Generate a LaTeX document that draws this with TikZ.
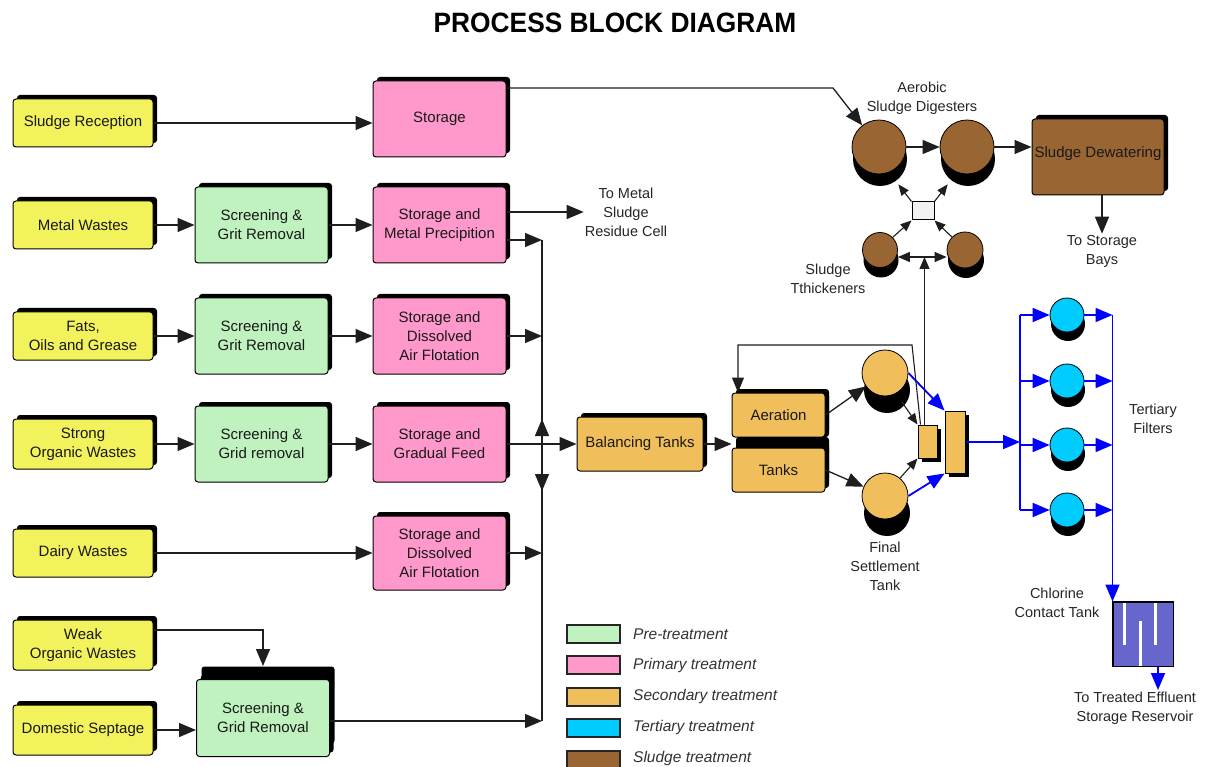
\documentclass[tikz,border=0pt]{standalone}
\usepackage{fontspec}
\usepackage{graphicx}
\setmainfont{Liberation Sans}
\usetikzlibrary{arrows.meta,shadows}

\definecolor{srcY}{HTML}{F2F25C}
\definecolor{preG}{HTML}{BFF2BF}
\definecolor{priP}{HTML}{FF99CC}
\definecolor{secO}{HTML}{F0BF5C}
\definecolor{terC}{HTML}{00CCFF}
\definecolor{sluB}{HTML}{996633}
\definecolor{chlV}{HTML}{6666CC}
\definecolor{lineK}{HTML}{1E1E1E}
\definecolor{legT}{HTML}{333333}

\tikzset{
  blk/.style={draw=black, line width=1pt, rounded corners=3pt, align=center,
    inner sep=1pt, text=black!90, font=\fontsize{15}{19}\selectfont,
    drop shadow={shadow xshift=4pt, shadow yshift=4pt, fill=black, opacity=1}},
  srcbox/.style={blk, fill=srcY, minimum width=140pt, minimum height=48pt},
  prebox/.style={blk, fill=preG, minimum width=133pt, minimum height=76pt},
  pribox/.style={blk, fill=priP, minimum width=133pt, minimum height=76pt},
  secbox/.style={blk, fill=secO},
  tank/.style={circle, draw=black, line width=0.8pt, inner sep=0pt},
  lbl/.style={align=center, inner sep=1pt, text=black!85, font=\fontsize{14.5}{19}\selectfont},
  conn/.style={draw=lineK, line width=1.3pt},
  flow/.style={conn, -{Triangle[length=17pt,width=14pt]}},
  sflow/.style={conn, line width=1.1pt, -{Triangle[length=11pt,width=9pt]}},
  wet/.style={draw=blue, line width=1.8pt, -{Triangle[length=17pt,width=14pt]}},
  wline/.style={draw=blue, line width=1.8pt},
  legsw/.style={draw=black!85, line width=1.2pt, minimum width=53pt, minimum height=18pt, inner sep=0pt},
  legtx/.style={anchor=west, inner sep=0pt, text=legT, font=\itshape\fontsize{15.5}{18}\selectfont}
}

\begin{document}
\begin{tikzpicture}[x=1pt,y=-1pt]
\fill[white] (0,0) rectangle (1210,767);
\useasboundingbox (0,0) rectangle (1210,767);

% title
\node[font=\bfseries\fontsize{28}{30}\selectfont] (ttl) at (615,23) {\scalebox{0.94}[1]{PROCESS BLOCK DIAGRAM}};

% ---- incoming wastes ----
\node[srcbox] (sr) at (83,123) {Sludge Reception};
\node[srcbox] (mw) at (83,225) {Metal Wastes};
\node[srcbox] (fo) at (83,336) {Fats,\\Oils and Grease};
\node[srcbox, minimum height=50pt] (so) at (83,444) {Strong\\Organic Wastes};
\node[srcbox] (dw0) at (83,553) {Dairy Wastes};
\node[srcbox, minimum height=50pt] (wo) at (83,645) {Weak\\Organic Wastes};
\node[srcbox, minimum height=50pt] (ds) at (83,730) {Domestic Septage};

% ---- pre-treatment ----
\node[prebox] (g1) at (261.5,225) {Screening \&\\Grit Removal};
\node[prebox] (g2) at (261.5,336) {Screening \&\\Grit Removal};
\node[prebox] (g3) at (261.5,444) {Screening \&\\Grid removal};
\node[prebox, minimum height=77pt,
  drop shadow={shadow xshift=5pt, shadow yshift=13pt, fill=black, opacity=1}]
  (g4) at (263,718) {Screening \&\\Grid Removal};

% ---- primary treatment ----
\node[pribox] (st) at (439.5,119) {Storage};
\node[pribox] (mp) at (439.5,225) {Storage and\\Metal Precipition};
\node[pribox] (dp1) at (439.5,336) {Storage and\\Dissolved\\Air Flotation};
\node[pribox] (gf) at (439.5,444) {Storage and\\Gradual Feed};
\node[pribox, minimum height=74pt] (dp2) at (439.5,553) {Storage and\\Dissolved\\Air Flotation};

\node[lbl] (tm) at (626,212) {To Metal\\Sludge\\Residue Cell};

% ---- connectors on the left ----
\draw[flow] (sr) -- (sr -| st.west);
\draw[flow] (mw) -- (g1);
\draw[flow] (g1) -- (mp);
\draw[flow] (fo) -- (g2);
\draw[flow] (g2) -- (dp1);
\draw[flow] (so) -- (g3);
\draw[flow] (g3) -- (gf);
\draw[flow] (dw0) -- (dp2);
\draw[flow] (wo.east |- 0,630) -| ([yshift=13pt]g4.north);
\draw[flow] (ds.east) -- (ds.east -| g4.west);
\draw[flow] (mp.east |- tm) -- (tm.west);

% collecting main
\coordinate (b1) at (542,240);
\coordinate (b2) at (542,336);
\coordinate (b3) at (542,444);
\coordinate (b4) at (542,553);
\coordinate (b5) at (542,721);
\coordinate (bu) at (542,419);
\coordinate (bd) at (542,491);
\draw[conn] (b1) -- (b5);
\draw[flow] (mp.east |- b1) -- (b1);
\draw[flow] (dp1.east |- b2) -- (b2);
\draw[flow] (dp2.east |- b4) -- (b4);
\draw[flow] (g4.east |- b5) -- (b5);
\draw[flow] (b3) -- (bu);
\draw[flow] (b3) -- (bd);

% ---- secondary treatment ----
\node[secbox, minimum width=126pt, minimum height=54pt] (bt) at (640,444) {Balancing Tanks};
\draw[flow] (gf) -- (bt);

\node[secbox, minimum width=93pt, minimum height=44pt,
  drop shadow={shadow xshift=4pt, shadow yshift=0pt, fill=black, opacity=1}]
  (aer) at (778.5,415) {Aeration};
\node[secbox, minimum width=93pt, minimum height=44pt,
  drop shadow={shadow xshift=4pt, shadow yshift=11pt, fill=black, opacity=1}]
  (tk) at (778.5,470) {Tanks};
\draw[flow] (bt) -- (bt -| aer.west);

\node[tank, fill=secO, minimum size=46pt,
  drop shadow={shadow xshift=2pt, shadow yshift=-17pt, fill=black, opacity=1}]
  (cl1) at (885,373) {};
\node[tank, fill=secO, minimum size=46pt,
  drop shadow={shadow xshift=2pt, shadow yshift=-17pt, fill=black, opacity=1}]
  (cl2) at (885,496) {};
\node[lbl] (fst) at (885,566) {Final\\Settlement\\Tank};

\node[draw=black, line width=1pt, fill=secO, minimum width=19pt, minimum height=33pt, inner sep=0pt,
  drop shadow={shadow xshift=4pt, shadow yshift=-4pt, fill=black, opacity=1}]
  (sb) at (927.5,441.5) {};
\node[draw=black, line width=1pt, fill=secO, minimum width=20pt, minimum height=62pt, inner sep=0pt,
  drop shadow={shadow xshift=4pt, shadow yshift=-4pt, fill=black, opacity=1}]
  (bb) at (955,442) {};

\draw[flow] (aer.east) -- (cl1);
\draw[flow] (tk.east) -- (cl2);
\draw[sflow] ([yshift=-12pt]cl1.-45) -- (sb.north west);
\draw[sflow] (cl2.50) -- (sb.south west);
\draw[wet] (cl1.east) -- (bb.north west);
\draw[wet] (cl2.east) -- (bb.south west);

% return sludge line
\coordinate (fb1) at (912,345);
\coordinate (fb2) at (738,345);
\draw[conn, line width=1.1pt, -{Triangle[length=15pt,width=12pt]}]
  ([xshift=3pt]sb.north west) -- (fb1) -- (fb2) -- (fb2 |- aer.north);

% ---- sludge treatment ----
\node[tank, fill=sluB, minimum size=54pt,
  drop shadow={shadow xshift=1pt, shadow yshift=-12pt, fill=black, opacity=1}]
  (dg1) at (879,147) {};
\node[tank, fill=sluB, minimum size=54pt,
  drop shadow={shadow xshift=1pt, shadow yshift=-12pt, fill=black, opacity=1}]
  (dg2) at (967,147) {};
\node[lbl] (adg) at (922,98) {Aerobic\\Sludge Digesters};

\node[blk, fill=sluB, minimum width=132pt, minimum height=76pt, inner sep=0pt]
  (dw) at (1098,157) {\raisebox{10pt}{Sludge Dewatering}};
\node[lbl] (bays) at (1102,251) {To Storage\\Bays};

\node[draw=black, line width=1pt, fill=gray!10, minimum width=22pt, minimum height=18pt, inner sep=0pt]
  (jn) at (923,211) {};
\node[tank, fill=sluB, minimum size=35pt,
  drop shadow={shadow xshift=1pt, shadow yshift=-10pt, fill=black, opacity=1}]
  (th1) at (880,250) {};
\node[tank, fill=sluB, minimum size=36pt,
  drop shadow={shadow xshift=1pt, shadow yshift=-10pt, fill=black, opacity=1}]
  (th2) at (965,250) {};
\node[lbl] (thl) at (828,279) {Sludge\\Tthickeners};

\coordinate (sc1) at (833,88);
\draw[flow] (st.east |- sc1) -- (sc1) -- (dg1);
\draw[flow] (dg1) -- (dg2);
\draw[flow] (dg2.east) -- (dg2.east -| dw.west);
\draw[flow] (bays.north |- dw.south) -- (bays.north);
\draw[sflow] (jn.north west) -- ([yshift=-18pt]dg1.-45);
\draw[sflow] (jn.north east) -- ([yshift=-18pt]dg2.-135);
\draw[sflow] (th1.45) -- (jn.south west);
\draw[sflow] (th2.135) -- (jn.south east);
\coordinate (dal) at ([yshift=-7pt]th1.east);
\coordinate (dar) at ([yshift=-7pt]th2.west);
\draw[conn, line width=1.1pt, {Triangle[length=12pt,width=10pt]}-{Triangle[length=12pt,width=10pt]}] (dal) -- (dar);
\draw[conn, line width=1.1pt, -{Triangle[length=12pt,width=10pt]}]
  ([xshift=-3pt]sb.north) -- ([xshift=-3pt]sb.north |- dal);

% ---- tertiary treatment ----
\node[tank, fill=terC, minimum size=34pt,
  drop shadow={shadow xshift=1pt, shadow yshift=-9pt, fill=black, opacity=1}] (f1) at (1067,315) {};
\node[tank, fill=terC, minimum size=34pt,
  drop shadow={shadow xshift=1pt, shadow yshift=-9pt, fill=black, opacity=1}] (f2) at (1067,381) {};
\node[tank, fill=terC, minimum size=34pt,
  drop shadow={shadow xshift=1pt, shadow yshift=-9pt, fill=black, opacity=1}] (f3) at (1067,445) {};
\node[tank, fill=terC, minimum size=34pt,
  drop shadow={shadow xshift=1pt, shadow yshift=-9pt, fill=black, opacity=1}] (f4) at (1067,510) {};
\node[lbl] (tfl) at (1153,419) {Tertiary\\Filters};

\node[draw=black, line width=1pt, fill=chlV, minimum width=60pt, minimum height=64pt, inner sep=0pt]
  (ct) at (1143,634) {};
\draw[white, line width=2.6pt] ([xshift=12pt,yshift=-1pt]ct.north west) -- ++(0,42);
\draw[white, line width=2.6pt] ([xshift=28pt,yshift=1pt]ct.south west) -- ++(0,-45);
\draw[white, line width=2.6pt] ([xshift=43pt,yshift=-1pt]ct.north west) -- ++(0,42);
\draw[black, line width=1pt] (ct.north west) rectangle (ct.south east);
\node[lbl] (ccl) at (1057,603) {Chlorine\\Contact Tank};
\node[lbl] (eff) at (1135,708) {To Treated Effluent\\Storage Reservoir};

\coordinate (inl) at (1020,442);
\draw[wet] (bb.east) -- (inl);
\draw[wline] (f1 -| inl) -- (f4 -| inl);
\draw[wet] (f1 -| inl) -- (f1.west);
\draw[wet] (f2 -| inl) -- (f2.west);
\draw[wet] (f3 -| inl) -- (f3.west);
\draw[wet] (f4 -| inl) -- (f4.west);
\draw[wet] (f1.east) -- (f1 -| ct.west);
\draw[wet] (f2.east) -- (f2 -| ct.west);
\draw[wet] (f3.east) -- (f3 -| ct.west);
\draw[wet] (f4.east) -- (f4 -| ct.west);
\draw[wet] (f1 -| ct.west) -- (ct.north west);
\coordinate (effin) at (1158,690);
\draw[wet] (ct.south -| effin) -- (effin);

% ---- legend ----
\node[legsw, fill=preG] (lg1) at (593.5,634) {};
\node[legsw, fill=priP] (lg2) at (593.5,665) {};
\node[legsw, fill=secO] (lg3) at (593.5,697) {};
\node[legsw, fill=terC] (lg4) at (593.5,728) {};
\node[legsw, fill=sluB] (lg5) at (593.5,760) {};
\node[legtx] (lt1) at (633,634) {Pre-treatment};
\node[legtx] (lt2) at (633,665) {Primary treatment};
\node[legtx] (lt3) at (633,696) {Secondary treatment};
\node[legtx] (lt4) at (633,727) {Tertiary treatment};
\node[legtx] (lt5) at (633,758) {Sludge treatment};
\end{tikzpicture}
\end{document}
